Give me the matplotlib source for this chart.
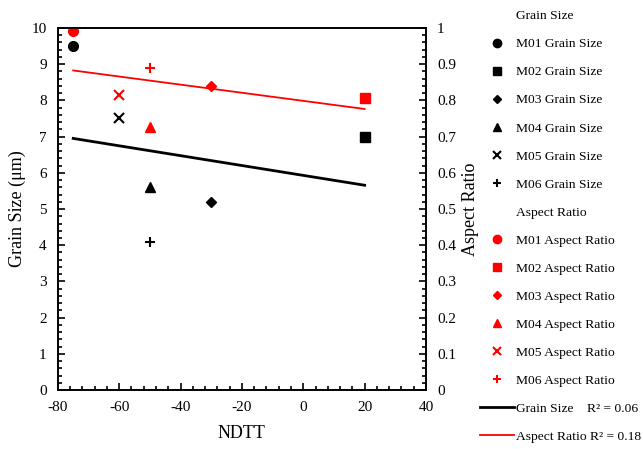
import numpy as np
import matplotlib.pyplot as plt
from matplotlib.lines import Line2D
from matplotlib.ticker import MultipleLocator, FormatStrFormatter

plt.rcParams['font.family'] = ['Liberation Serif', 'DejaVu Serif']
plt.rcParams['axes.unicode_minus'] = False

samples = ["M01", "M02", "M03", "M04", "M05", "M06"]
ndtt = [-75, 20, -30, -50, -60, -50]
grain_size = [9.5, 7.0, 5.2, 5.6, 7.5, 4.1]
aspect_ratio = [0.99, 0.805, 0.84, 0.725, 0.815, 0.89]
r2_labels = ["R² = 0.06", "R² = 0.18"]
markers = ["o", "s", "D", "^", "x", "+"]
msizes = [7, 7, 5, 7, 7, 7]

fig = plt.figure(figsize=(6.43, 4.49), dpi=100)
ax = fig.add_axes([0.090, 0.131, 0.5725, 0.807])
ax2 = ax.twinx()

handles = [Line2D([], [], linestyle="none")]
labels = ["Grain Size"]
for s, x, y, m, ms in zip(samples, ndtt, grain_size, markers, msizes):
    mew = 1.5 if m in "x+" else 1
    ax.plot(x, y, marker=m, color="black", ms=ms, mew=mew, linestyle="none")
    handles.append(Line2D([], [], marker=m, color="black", ms=ms - 1, mew=mew, linestyle="none"))
    labels.append(s + " Grain Size")
handles.append(Line2D([], [], linestyle="none"))
labels.append("Aspect Ratio")
for s, x, y, m, ms in zip(samples, ndtt, aspect_ratio, markers, msizes):
    mew = 1.5 if m in "x+" else 1
    ax2.plot(x, y, marker=m, color="red", ms=ms, mew=mew, linestyle="none")
    handles.append(Line2D([], [], marker=m, color="red", ms=ms - 1, mew=mew, linestyle="none"))
    labels.append(s + " Aspect Ratio")

# linear trendlines
xs = np.array([min(ndtt), max(ndtt)])
k1, b1 = np.polyfit(ndtt, grain_size, 1)
ax.plot(xs, k1 * xs + b1, color="black", lw=2)
k2, b2 = np.polyfit(ndtt, aspect_ratio, 1)
ax2.plot(xs, k2 * xs + b2, color="red", lw=1.3)
handles.append(Line2D([], [], color="black", lw=2))
labels.append("Grain Size    " + r2_labels[0])
handles.append(Line2D([], [], color="red", lw=1.3))
labels.append("Aspect Ratio " + r2_labels[1])

ax.set_xlim(-80, 40)
ax.set_ylim(0, 10)
ax2.set_ylim(0, 1)
ax.xaxis.set_major_locator(MultipleLocator(20))
ax.xaxis.set_minor_locator(MultipleLocator(4))
ax.yaxis.set_major_locator(MultipleLocator(1))
ax.yaxis.set_minor_locator(MultipleLocator(0.2))
ax2.yaxis.set_major_locator(MultipleLocator(0.1))
ax2.yaxis.set_minor_locator(MultipleLocator(0.02))
ax2.yaxis.set_major_formatter(FormatStrFormatter("%g"))
for a in (ax, ax2):
    a.tick_params(which="both", direction="in", labelsize=11, width=1.2)
    a.tick_params(which="major", length=5)
    a.tick_params(which="minor", length=3)
    for sp in a.spines.values():
        sp.set_linewidth(1.2)
ax.tick_params(axis="x", pad=8)
ax.tick_params(axis="y", pad=8)
ax2.tick_params(axis="y", pad=8)

ax.set_xlabel("NDTT", fontsize=13, labelpad=8)
ax.set_ylabel("Grain Size (μm)", fontsize=13)
ax2.set_ylabel("Aspect Ratio", fontsize=13)

fig.legend(handles, labels, loc="upper left", bbox_to_anchor=(0.738, 0.99),
           frameon=False, fontsize=9.7, handlelength=2.5, handletextpad=0.2,
           labelspacing=1.16, borderaxespad=0)

fig.savefig("out.png", dpi=100)
